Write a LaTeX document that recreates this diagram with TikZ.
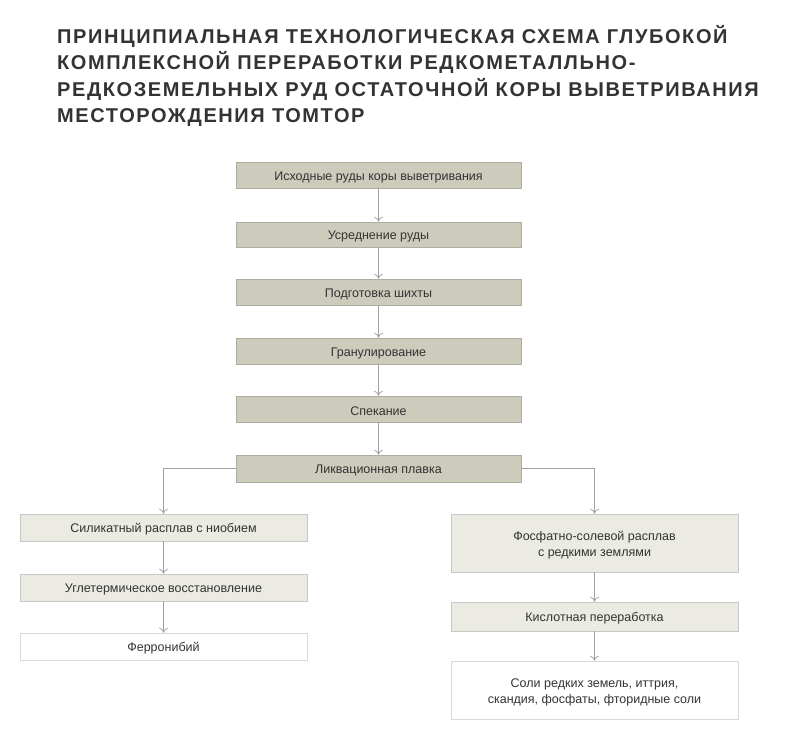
\documentclass[tikz,border=0pt]{standalone}
\usepackage{fontspec}
\setmainfont{Liberation Sans}
\usetikzlibrary{arrows.meta}
\definecolor{dk}{HTML}{CDCBBB}
\definecolor{lt}{HTML}{EBEBE4}
\definecolor{ln}{HTML}{A0A0A0}
\definecolor{tx}{HTML}{333333}
\begin{document}
\begin{tikzpicture}[x=1pt,y=-1pt,
  bx/.style={draw=#1!85!black,fill=#1,line width=0.6pt,inner sep=0pt},
  bxtext/.style={text=tx,font=\fontsize{12.5}{16}\selectfont,align=center,inner sep=0pt,anchor=center,yshift=-2pt},
  arr/.style={draw=ln,line width=0.7pt,-{To[length=5pt,width=9pt]}}]
\useasboundingbox (0,0) rectangle (800,744);
\node[anchor=north west,align=left,font=\bfseries\fontsize{20}{26.5}\selectfont\addfontfeature{LetterSpace=8},text=tx,inner sep=0pt] (title) at (57,25)
 {ПРИНЦИПИАЛЬНАЯ ТЕХНОЛОГИЧЕСКАЯ СХЕМА ГЛУБОКОЙ\\КОМПЛЕКСНОЙ ПЕРЕРАБОТКИ РЕДКОМЕТАЛЛЬНО-\\РЕДКОЗЕМЕЛЬНЫХ РУД ОСТАТОЧНОЙ КОРЫ ВЫВЕТРИВАНИЯ\\МЕСТОРОЖДЕНИЯ ТОМТОР};
\newcommand{\bxat}[7]{\node[bx=#6,minimum width={#3-#2},minimum height={#5-#4},label={[bxtext]center:{#7}}] (#1) at ({(#2+#3)/2},{(#4+#5)/2}) {};}
\bxat{a1}{236}{521}{162}{188}{dk}{Исходные руды коры выветривания}
\bxat{a2}{236}{521}{222}{247}{dk}{Усреднение руды}
\bxat{a3}{236}{521}{279}{305}{dk}{Подготовка шихты}
\bxat{a4}{236}{521}{338}{364}{dk}{Гранулирование}
\bxat{a5}{236}{521}{396}{422}{dk}{Спекание}
\bxat{a6}{236}{521}{455}{482}{dk}{Ликвационная плавка}
\bxat{l1}{20}{307}{514}{541}{lt}{Силикатный расплав с ниобием}
\bxat{l2}{20}{307}{574}{601}{lt}{Углетермическое восстановление}
\bxat{l3}{20}{307}{633}{660}{white}{Ферронибий}
\bxat{r1}{451}{738}{514}{572}{lt}{Фосфатно-солевой расплав\\с редкими землями}
\bxat{r2}{451}{738}{602}{631}{lt}{Кислотная переработка}
\bxat{r3}{451}{738}{661}{719}{white}{Соли редких земель, иттрия,\\скандия, фосфаты, фторидные соли}
\foreach \p/\q in {a1/a2,a2/a3,a3/a4,a4/a5,a5/a6,l1/l2,l2/l3,r1/r2,r2/r3}
  \draw[arr] (\p.south) -- (\q.north);
\draw[arr] (a6.west) -| (l1.north);
\draw[arr] (a6.east) -| (r1.north);
\end{tikzpicture}
\end{document}
